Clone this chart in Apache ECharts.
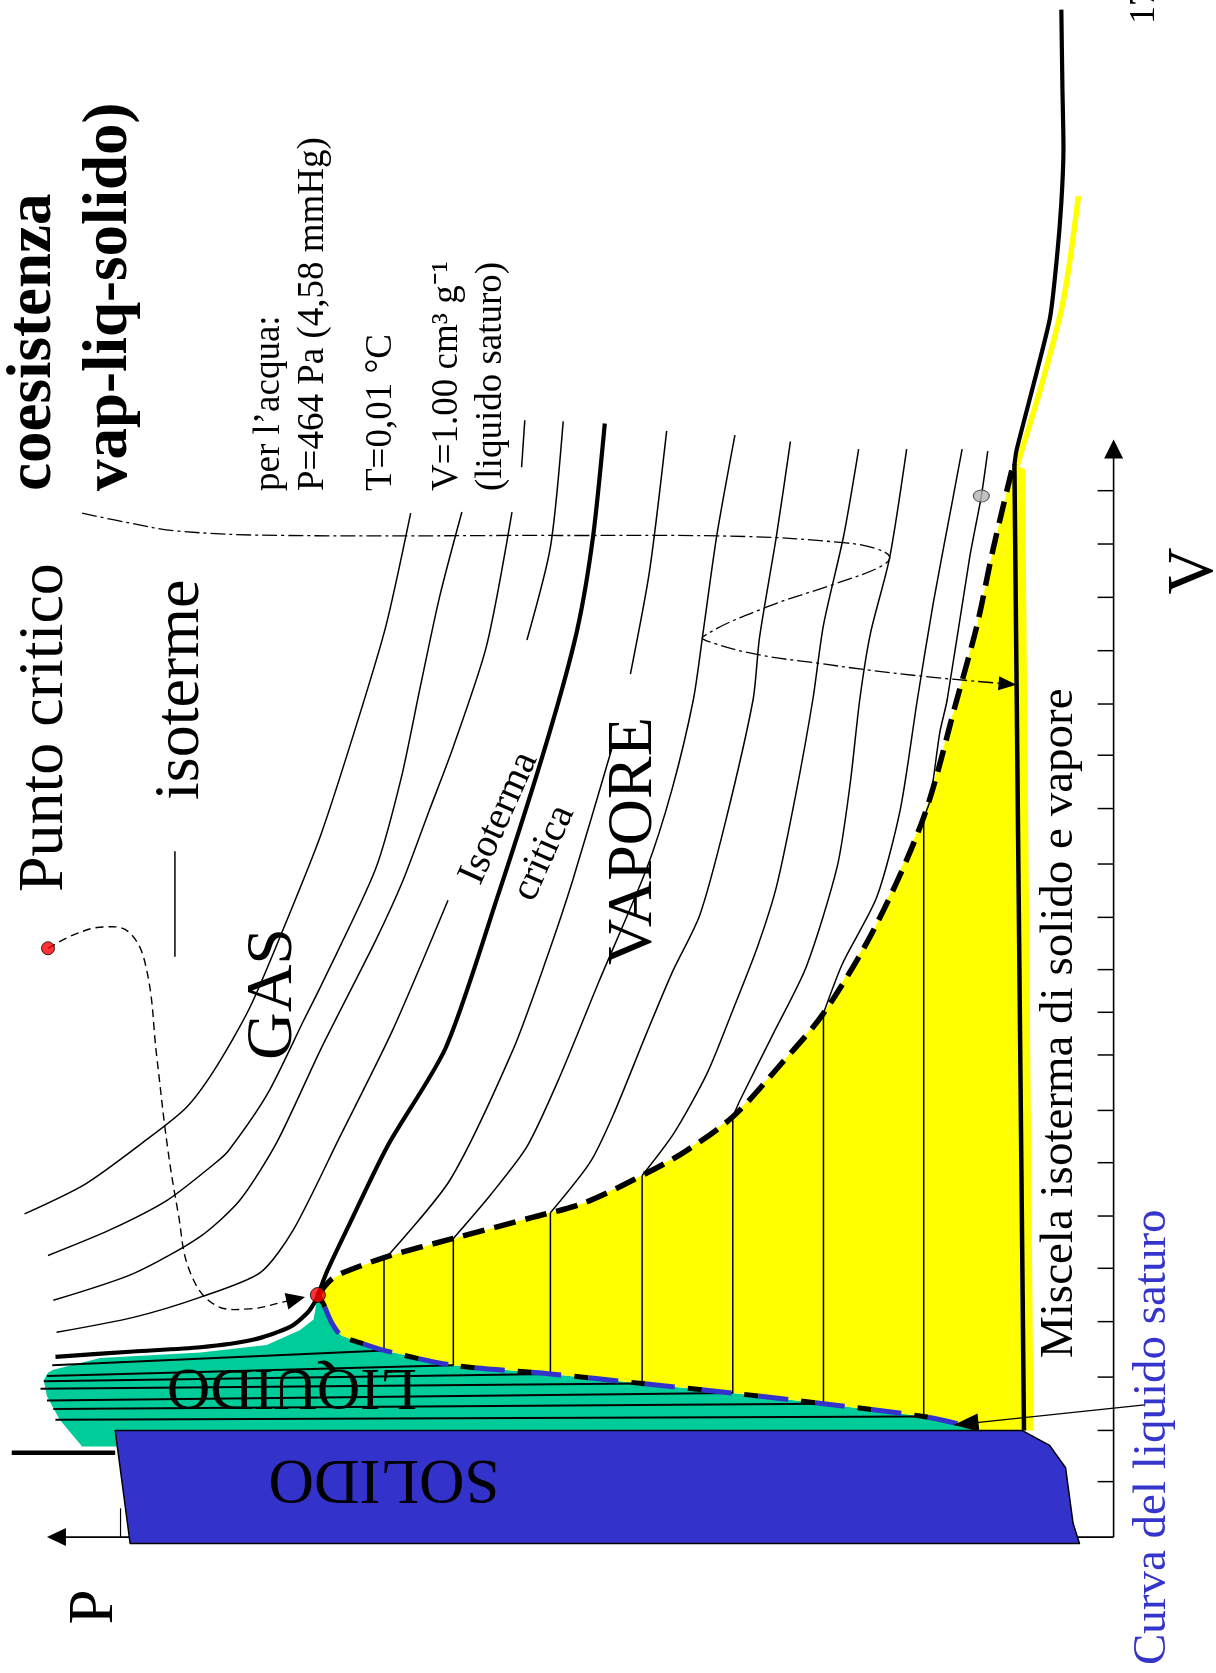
<!DOCTYPE html>
<html><head><meta charset="utf-8">
<script src="https://cdn.jsdelivr.net/npm/echarts@6/dist/echarts.min.js"></script>
<style>html,body{margin:0;padding:0;background:#fff}#c{width:1216px;height:1673px}</style>
</head><body><div id="c"></div>
<script>
// ---- data: P (pressure, arbitrary units) , V (volume, arbitrary units) ----
const isoA = [[102.1,30.3],[96.4,33.1],[91.0,37.0],[87.0,40.2],[84.3,43.8],[81.0,49.6],[77.6,57.6],[74.3,65.9],[70.9,76.4],[68.2,85.5],[65.9,96.0]];
const isoB = [[99.9,26.4],[94.1,28.8],[88.7,31.6],[84.3,35.0],[83.0,36.2],[79.3,41.6],[75.9,48.5],[74.3,51.7],[69.2,62.6],[66.8,71.1],[65.0,79.7],[63.2,88.1],[61.1,96.1]];
const isoC = [[99.4,22.2],[91.9,24.7],[85.6,28.2],[81.9,31.6],[78.4,37.1],[74.3,45.8],[69.2,55.9],[66.6,61.6],[64.2,68.0],[61.9,74.1],[58.8,83.5],[56.4,96.1]];
const isoCtop = [[55.5,100.3],[55.2,104.7]];
const isoD = [[99.1,19.2],[91.9,20.6],[85.6,22.5],[80.0,24.8],[76.9,28.8],[72.6,37.4],[67.6,47.5],[62.4,59.7]];
const isoDtop = [[55.0,84.1],[52.8,92.8],[51.6,104.6]];
const isoCrit = [[99.2,16.9],[91.9,17.4],[85.6,17.8],[80.7,18.5],[77.2,19.7],[75.6,21.0],[74.9,22.0],[74.6,22.7],[73.7,25.0],[71.9,28.8],[68.1,36.6],[62.6,45.9],[57.8,59.9],[53.1,74.7],[50.3,85.0],[48.8,93.8],[47.7,104.4]];
const isoE = [[68.1,26.3],[62.2,33.5],[56.3,45.7],[53.1,54.4],[50.7,61.6],[46.9,74.4]];
const isoEtop = [[45.3,80.9],[43.5,90.6],[41.9,103.7]];
const isoF = [[61.9,28.0],[58.4,32.1],[55.0,36.6],[51.9,43.2],[48.2,52.2],[43.8,62.6],[41.4,70.1],[39.4,78.5],[38.5,84.7],[37.2,93.9],[35.5,103.3]];
const isoG = [[52.8,30.4],[49.1,35.1],[46.9,39.6],[43.8,47.2],[41.4,52.9],[38.8,58.3],[36.4,67.0],[33.8,78.5],[33.2,84.3],[31.6,93.9],[30.3,102.7]];
const isoH = [[44.2,33.9],[41.2,37.9],[38.1,43.5],[35.7,49.4],[33.4,55.3],[31.6,61.0],[29.8,69.6],[28.2,78.5],[27.2,85.5],[25.3,93.9],[23.9,102.0]];
const isoI = [[35.7,39.4],[35.0,41.0],[31.9,47.2],[28.8,53.5],[25.9,62.9],[24.7,70.6],[23.8,78.5],[22.8,84.7],[21.0,91.8],[19.4,102.0]];
const isoJ = [[27.2,49.1],[25.4,53.8],[22.2,60.0],[20.0,68.2],[18.4,78.5],[16.9,87.6],[15.1,97.2],[14.2,102.0]];
const isoK = [[17.8,67.5],[17.2,69.1],[16.3,75.4],[15.6,78.5],[13.5,91.8],[12.4,97.6],[11.8,101.8]];

const vapSat = [[74.6,22.7],[73.4,24.1],[72.2,24.8],[68.1,26.3],[61.9,28.0],[54.4,30.0],[49.7,31.3],[45.0,33.5],[40.4,36.0],[35.7,39.4],[31.4,44.1],[27.2,49.1],[22.4,57.1],[17.8,67.5],[14.7,78.5],[12.8,85.5],[11.3,92.6],[9.4,100.6]];
const liqSat = [[74.6,22.7],[74.1,21.9],[73.3,20.1],[72.4,18.9],[70.6,18.2],[68.4,17.5],[61.9,16.1],[52.8,15.3],[44.2,14.4],[35.7,13.5],[27.2,12.5],[17.8,11.3],[13.2,10.3]];

const tieP   = [68.4,61.9,52.8,44.2,35.7,27.2,17.8];
const tieTop = [26.2,28.0,30.4,33.9,39.4,49.1,67.5];
const tieBot = [17.5,16.1,15.3,14.4,13.5,12.5,11.3];
const liqLeftP = [99.5,100.0,100.3,100.6,100.0,99.4,99.2];
const liqLeftV = [16.1,15.1,14.6,13.9,12.8,12.0,11.0];

const greenEdge = [[93.4,8.5],[96.7,8.5],[98.8,11.0],[100.0,13.2],[100.3,14.7],[99.9,15.4],[99.4,15.7],[95.0,16.8],[85.6,17.3],[79.4,18.0],[76.3,19.4],[75.0,20.4]];
const yellowEdge = [[8.3,100.1],[7.5,10.0],[13.2,10.0]];
const solid = [[93.6,10.0],[8.6,10.0],[6.0,8.6],[4.5,6.5],[3.8,1.3],[3.2,-0.6],[92.2,-0.6]];
const tripleLine = [[9.3,100.6],[8.4,10.0]];
const sublimTop = [[9.3,100.5],[9.1,101.9],[6.0,114.1],[5.3,120.1],[4.9,125.1],[4.7,130.0],[4.8,136.0],[4.9,143.2]];
const yellowTop = [[9.1,100.3],[6.7,108.2],[4.7,116.0],[3.3,125.7]];
const leftBar = [[103.3,7.9],[93.6,7.9]];

const axisP = [[0,0],[100,0]];
const axisV = [[0,0],[0,102.9]];
const tickV = [5.2,10.0,15.0,20.2,25.2,30.1,35.1,40.0,45.2,49.2,53.2,58.1,63.1,68.3,73.3,78.1,83.1,88.1,93.1,98.1];
const tickP = [93.1];

const leaderCrit = [[99.9,55.2],[97.4,56.5],[94.7,57.2],[92.3,56.7],[90.7,53.4],[89.7,45.0],[88.7,36.6],[87.7,30.4],[86.6,24.9],[84.3,21.8],[81.0,21.4],[77.6,22.1],[75.8,22.5]];
const leaderTriple = [[96.7,96.0],[92.4,95.1],[87.6,94.3],[77.6,93.9],[51.9,93.9],[34.4,93.8],[25.1,93.2],[22.4,92.7],[21.0,91.9],[21.8,91.0],[26.0,89.4],[32.5,87.2],[38.5,84.4],[37.5,83.8],[33.2,82.7],[27.5,81.9],[23.1,81.3],[16.9,80.6],[9.1,79.9]];
const leaderCurva = [[-2.9,12.4],[15.0,10.5]];
const legendIso = [[88.0,64.3],[88.0,54.4]];
const critPoint = [74.6,22.7];
const legendDot = [99.9,55.2];
const grayDot = [12.4,97.6];

// ---- helpers ----
const FONT = '"Liberation Serif","Times New Roman",serif';
function shapeSeries(pts, o) {
  return {
    type:'custom', coordinateSystem:'cartesian2d', silent:true, animation:false, z:o.z||2, clip:false,
    data:[[pts[0][0], pts[0][1]]],
    renderItem: function(params, api){
      let px = pts.map(p => api.coord(p));
      const kids = [];
      if (o.fill) {
        kids.push({type:'polygon', shape:{points:px}, style:{fill:o.fill, stroke:o.stroke||null, lineWidth:o.width||0, lineJoin:'round'}});
      } else {
        let head = null;
        if (o.arrow) {
          const tip = px[px.length-1], prev = px[px.length-2];
          const dx = tip[0]-prev[0], dy = tip[1]-prev[1], L = Math.hypot(dx,dy)||1;
          const ux = dx/L, uy = dy/L, len = o.arrow[0], w = o.arrow[1];
          const bx = tip[0]-ux*len, by = tip[1]-uy*len;
          head = [tip, [bx-uy*w/2, by+ux*w/2], [bx+uy*w/2, by-ux*w/2]];
          px = px.slice(0,-1).concat([[bx+ux*2, by+uy*2]]);
        }
        kids.push({type:'polyline', shape:{points:px, smooth:o.smooth||0}, style:{stroke:o.stroke, lineWidth:o.width, lineDash:o.dash||null, lineDashOffset:o.dashOffset||0, fill:null, lineCap:'butt', lineJoin:'round'}});
        if (head) kids.push({type:'polygon', shape:{points:head}, style:{fill:o.stroke}});
      }
      return {type:'group', children:kids};
    }
  };
}
function iso(data, width, z) {
  return {type:'line', data, symbol:'none', showSymbol:false, smooth:0.25, silent:true, animation:false, z:z||6,
    lineStyle:{color:'#000', width:width||1.5}, emphasis:{disabled:true}};
}

const series = [
  // axes
  shapeSeries(axisP, {stroke:'#000', width:1.6, arrow:[19,18], z:1}),
  shapeSeries(axisV, {stroke:'#000', width:1.6, arrow:[19,19], z:1}),
  {type:'custom', silent:true, animation:false, z:1, data: tickV.map(v=>[0,v]),
   renderItem:(p,api)=>{const a=api.coord([0,api.value(1)]), b=api.coord([1.5,api.value(1)]);
     return {type:'line', shape:{x1:a[0],y1:a[1],x2:b[0],y2:b[1]}, style:{stroke:'#000', lineWidth:1.5}};}},
  {type:'custom', silent:true, animation:false, z:1, data: tickP.map(v=>[v,0]),
   renderItem:(p,api)=>{const a=api.coord([api.value(0),0]), b=api.coord([api.value(0),2.7]);
     return {type:'line', shape:{x1:a[0],y1:a[1],x2:b[0],y2:b[1]}, style:{stroke:'#000', lineWidth:1.2}};}},
  // regions
  shapeSeries(liqSat.concat([[13.2,9.0]]).concat(greenEdge), {fill:'#00CC99', z:2}),
  shapeSeries(vapSat.concat(yellowEdge).concat(liqSat.slice().reverse()), {fill:'#FFFF00', z:3}),
  shapeSeries(solid, {fill:'#3333CC', stroke:'#000', width:1.5, z:4}),
  shapeSeries(leftBar, {stroke:'#000', width:4.5, z:4}),
  // tie lines & liquid isotherms
  {type:'custom', silent:true, animation:false, z:5, data: tieP.map((p,i)=>[p,tieTop[i],tieBot[i]]),
   renderItem:(p,api)=>{const a=api.coord([api.value(0),api.value(1)]), b=api.coord([api.value(0),api.value(2)]);
     return {type:'line', shape:{x1:a[0],y1:a[1],x2:b[0],y2:b[1]}, style:{stroke:'#000', lineWidth:1.5}};}},
  {type:'custom', silent:true, animation:false, z:5, data: liqLeftP.map((p,i)=>[p,liqLeftV[i],tieP[i],tieBot[i]]),
   renderItem:(p,api)=>{const a=api.coord([api.value(0),api.value(1)]), b=api.coord([api.value(2),api.value(3)]);
     return {type:'line', shape:{x1:a[0],y1:a[1],x2:b[0],y2:b[1]}, style:{stroke:'#000', lineWidth:2}};}},
  // isotherms
  iso(isoA), iso(isoB), iso(isoC), iso(isoCtop), iso(isoD), iso(isoDtop),
  iso(isoE), iso(isoEtop), iso(isoF), iso(isoG), iso(isoH), iso(isoI), iso(isoJ), iso(isoK),
  iso(isoCrit, 4.2, 6),
  iso(legendIso, 1.5),
  // saturation curves
  shapeSeries(vapSat, {stroke:'#000', width:5.5, dash:[22,10], smooth:0.3, z:7}),
  shapeSeries(liqSat, {stroke:'#000', width:5, dash:[14,43], smooth:0.3, z:7}),
  shapeSeries(liqSat, {stroke:'#3333CC', width:5, dash:[30,27], dashOffset:-14, smooth:0.3, z:7}),
  // triple line & sublimation curve
  shapeSeries(yellowTop, {stroke:'#FFFF00', width:5.5, smooth:0.3, z:8}),
  shapeSeries(sublimTop, {stroke:'#000', width:4.2, smooth:0.2, z:8}),
  shapeSeries(tripleLine, {stroke:'#000', width:4.5, z:8}),
  // leaders
  shapeSeries(leaderCrit, {stroke:'#000', width:1.4, dash:[8,5], smooth:0.4, arrow:[19,17], z:9}),
  shapeSeries(leaderTriple, {stroke:'#000', width:1.3, dash:[15,4,3,4], smooth:0.4, arrow:[18,14], z:9}),
  shapeSeries(leaderCurva, {stroke:'#000', width:1.3, arrow:[25,18], z:9}),
  // points
  {type:'scatter', silent:true, animation:false, z:10, data:[critPoint], symbolSize:15, itemStyle:{color:'#FF0000', borderColor:'#000', borderWidth:1}},
  {type:'scatter', silent:true, animation:false, z:10, data:[legendDot], symbolSize:13, itemStyle:{color:'#FF0000', borderColor:'#000', borderWidth:1}},
  {type:'scatter', silent:true, animation:false, z:10, data:[grayDot], symbolSize:[16,12], itemStyle:{color:'#B3B3B3', borderColor:'#333', borderWidth:1}}
];

// ---- texts (position in px, rotation) ----
const R = Math.PI/2;
const texts = [
  ['Punto critico', 45, 892, R, 64, 'normal', '#000', 'left'],
  ['isoterme', 181, 800, R, 64, 'normal', '#000', 'left'],
  ['GAS', 274, 1060, R, 66, 'normal', '#000', 'left'],
  ['VAPORE', 634, 965, R, 64, 'normal', '#000', 'left'],
  ['Isoterma', 499, 818, 1.15, 40, 'normal', '#000', 'center'],
  ['critica', 544, 853, 1.15, 40, 'normal', '#000', 'center'],
  ['coesistenza', 34, 491, R, 63, 'bold', '#000', 'left'],
  ['vap-liq-solido)', 110, 491, R, 63, 'bold', '#000', 'left'],
  ['per l\u2019acqua:', 269, 491, R, 37, 'normal', '#000', 'left'],
  ['P=464 Pa (4,58 mmHg)', 313, 491, R, 37, 'normal', '#000', 'left'],
  ['T=0,01 \u00B0C', 381, 491, R, 37, 'normal', '#000', 'left'],
  ['V=1.00 cm\u00B3 g\u207B\u00B9', 447, 491, R, 37, 'normal', '#000', 'left'],
  ['(liquido saturo)', 491, 491, R, 37, 'normal', '#000', 'left'],
  ['Miscela isoterma di solido e vapore', 1060, 1358, R, 47, 'normal', '#000', 'left'],
  ['Curva del liquido saturo', 1153, 1665, R, 47, 'normal', '#3535CC', 'left'],
  ['SOLIDO', 384, 1478, Math.PI, 63, 'normal', '#000', 'center'],
  ['LIQUIDO', 292, 1386, Math.PI, 60, 'normal', '#000', 'center'],
  ['P', 95, 1607, R, 63, 'normal', '#000', 'center'],
  ['V', 1195, 571, R, 65, 'normal', '#000', 'center'],
  ['17', 1145, 24, R, 36, 'normal', '#000', 'left']
];
const graphic = texts.map(t => ({
  type:'text', x:t[1], y:t[2], rotation:t[3], z:100, silent:true,
  style:{text:t[0], fontSize:t[4], fontWeight:t[5], fontFamily:FONT, fill:t[6], align:t[7], verticalAlign:'middle'}
}));

const chart = echarts.init(document.getElementById('c'), null, {renderer:'canvas', width:1216, height:1673});
chart.setOption({
  animation:false,
  backgroundColor:'#fff',
  grid:{left:0, right:0, top:0, bottom:0, containLabel:false},
  xAxis:{type:'value', min:-9.6, max:104.4, inverse:true, show:false},
  yAxis:{type:'value', min:-12.74, max:144.1, show:false},
  series: series,
  graphic: graphic
});
</script></body></html>
